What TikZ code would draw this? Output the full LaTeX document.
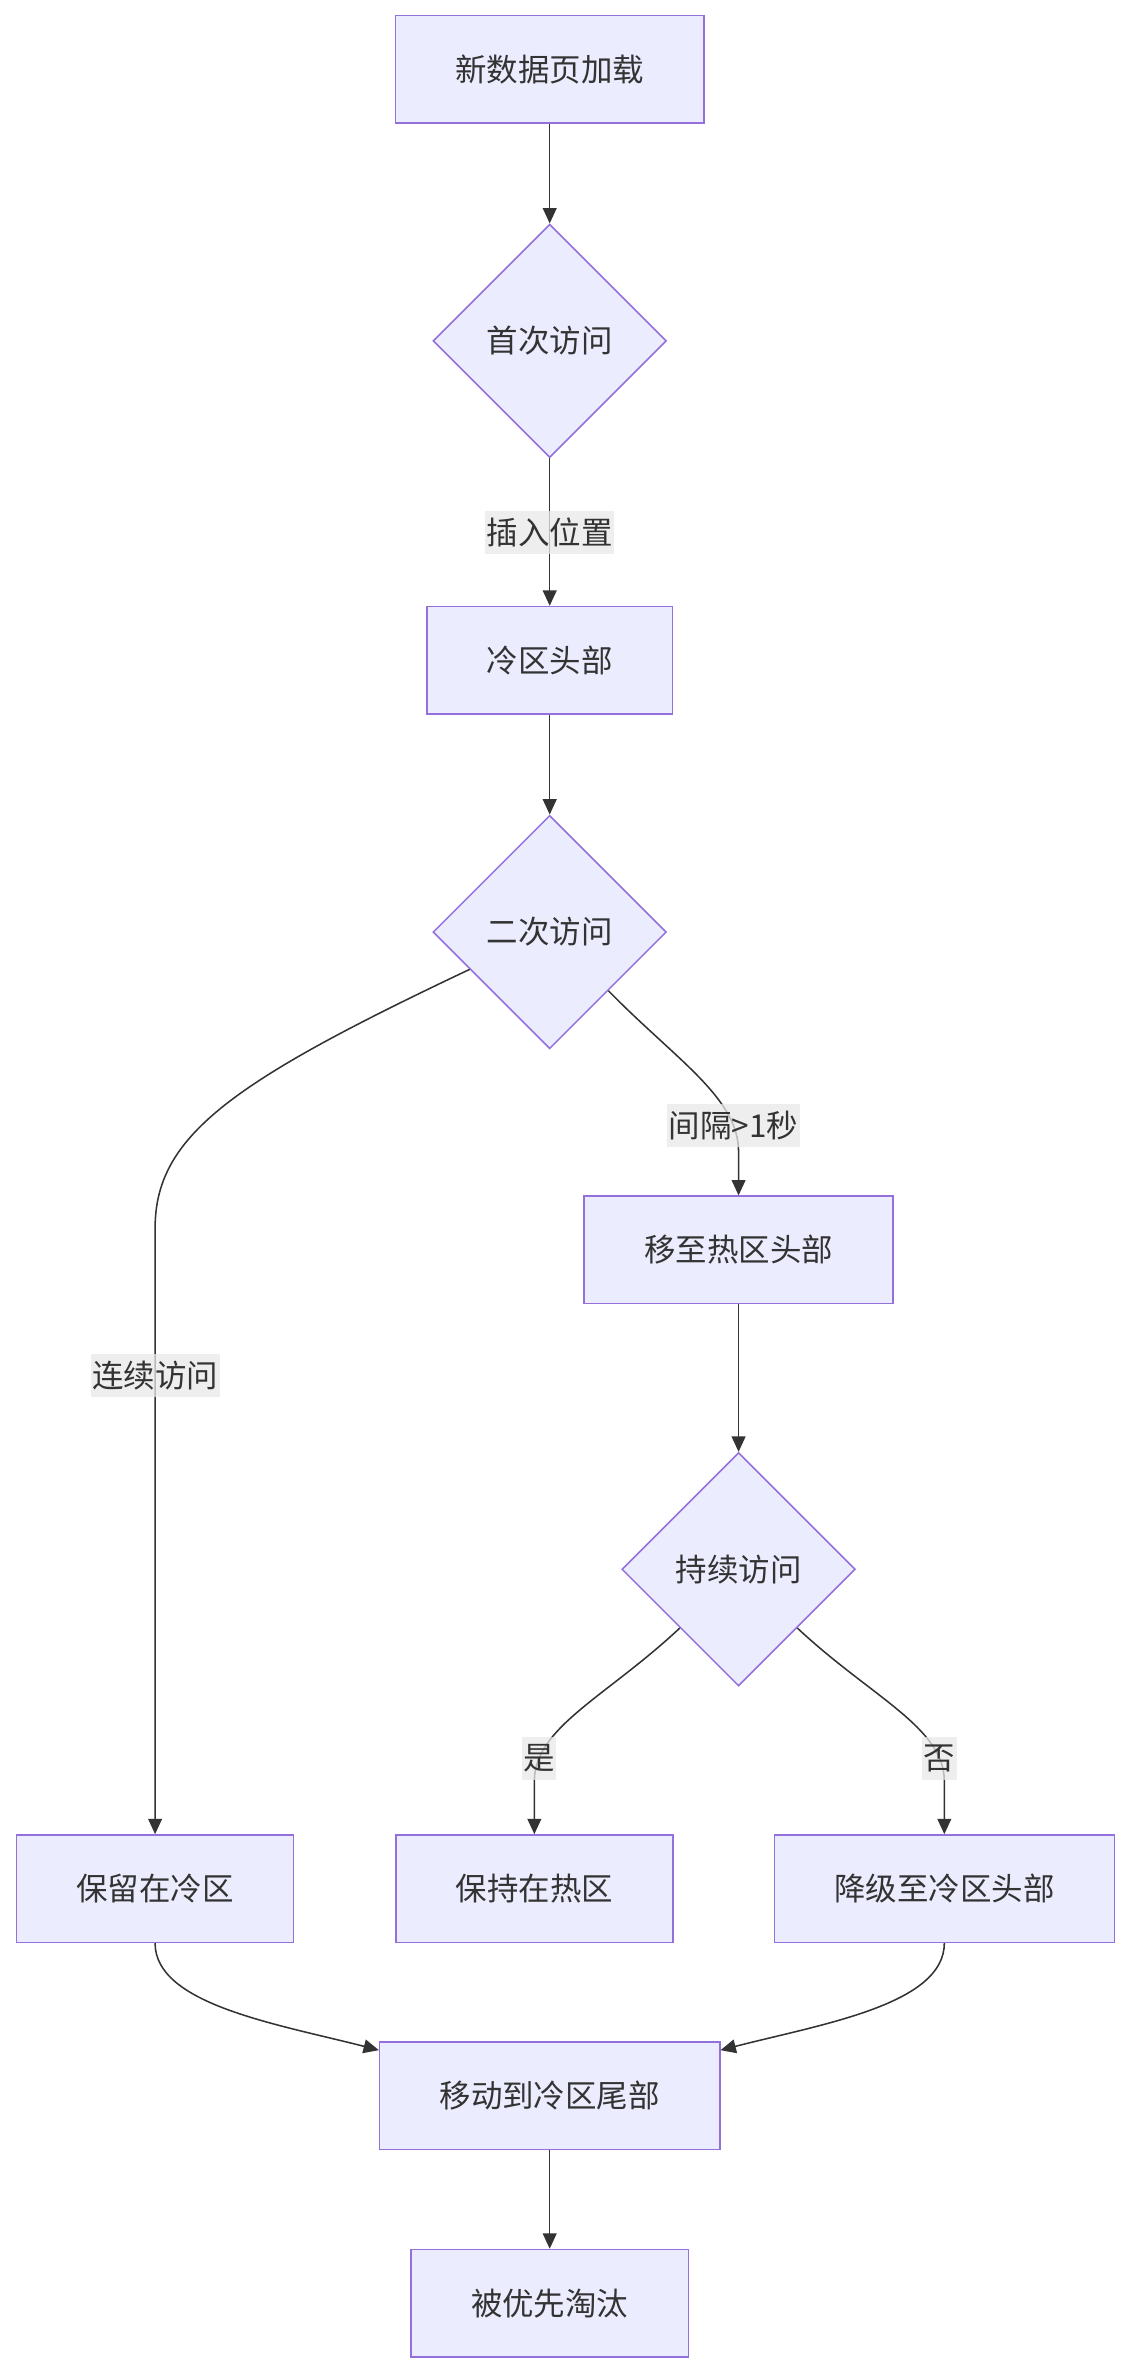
\documentclass[tikz,border=0pt]{standalone}
\usepackage{fontspec}
\setmainfont{Noto Sans CJK SC}
\usetikzlibrary{shapes.geometric,arrows.meta}
\definecolor{nodefill}{HTML}{ECECFF}
\definecolor{nodeline}{HTML}{9370DB}
\definecolor{edgeline}{HTML}{333333}
\definecolor{labelfill}{HTML}{E8E8E8}
\begin{document}
\begin{tikzpicture}[x=1pt, y=-1pt]
  \tikzstyle{process}=[draw=nodeline, fill=nodefill, line width=1pt, minimum height=70pt, inner xsep=39pt, text=edgeline, font=\fontsize{20.5}{24}\selectfont]
  \tikzstyle{decision}=[process, diamond, aspect=1, minimum width=152pt, minimum height=152pt, inner sep=0pt]
  \tikzstyle{edgelabel}=[fill=labelfill, fill opacity=0.75, text opacity=1, inner xsep=1pt, inner ysep=0pt, minimum height=28pt, text=edgeline, font=\fontsize{20.5}{24}\selectfont]
  \tikzstyle{flow}=[draw=edgeline, line width=1pt, -{Triangle[length=10pt,width=9pt]}]
  \useasboundingbox (0,0) rectangle (740,1550);
  \node[process] (load) at (358,45) {新数据页加载};
  \node[decision] (first) at (358,222) {首次访问};
  \node[process] (coldhead) at (358,430) {冷区头部};
  \node[decision] (second) at (358,607) {二次访问};
  \node[process] (hothead) at (481,814) {移至热区头部};
  \node[decision] (keepon) at (481,1022) {持续访问};
  \node[process] (staycold) at (101,1230) {保留在冷区};
  \node[process] (stayhot) at (348,1230) {保持在热区};
  \node[process] (demote) at (615,1230) {降级至冷区头部};
  \node[process] (coldtail) at (358,1365) {移动到冷区尾部};
  \node[process] (evict) at (358,1500) {被优先淘汰};
  \coordinate (coldbend) at (101,800);
  \coordinate (hotbend) at (481,750);
  \coordinate (yesbend) at (348,1160);
  \coordinate (nobend) at (615,1160);
  \draw[flow] (load) -- (first);
  \draw[flow] (first) -- node[edgelabel] {插入位置} (coldhead);
  \draw[flow] (coldhead) -- (second);
  \draw[flow] (second.205) .. controls (150,705) and (101,740) .. (coldbend) -- node[edgelabel, pos=0.243] {连续访问} (staycold);
  \draw[flow] (second.south east) .. controls (440,690) and (481,715) .. node[edgelabel, pos=0.83] {间隔>1秒} (hotbend) -- (hothead);
  \draw[flow] (hothead) -- (keepon);
  \draw[flow] (keepon.south west) .. controls (395,1105) and (348,1125) .. node[edgelabel, pos=0.85] {是} (yesbend) -- (stayhot);
  \draw[flow] (keepon.south east) .. controls (567,1105) and (615,1125) .. node[edgelabel, pos=0.85] {否} (nobend) -- (demote);
  \draw[flow] (staycold.south) .. controls +(0,40) and +(-66,-17) .. (coldtail.165);
  \draw[flow] (demote.south) .. controls +(0,40) and +(66,-17) .. (coldtail.15);
  \draw[flow] (coldtail) -- (evict);
\end{tikzpicture}
\end{document}
